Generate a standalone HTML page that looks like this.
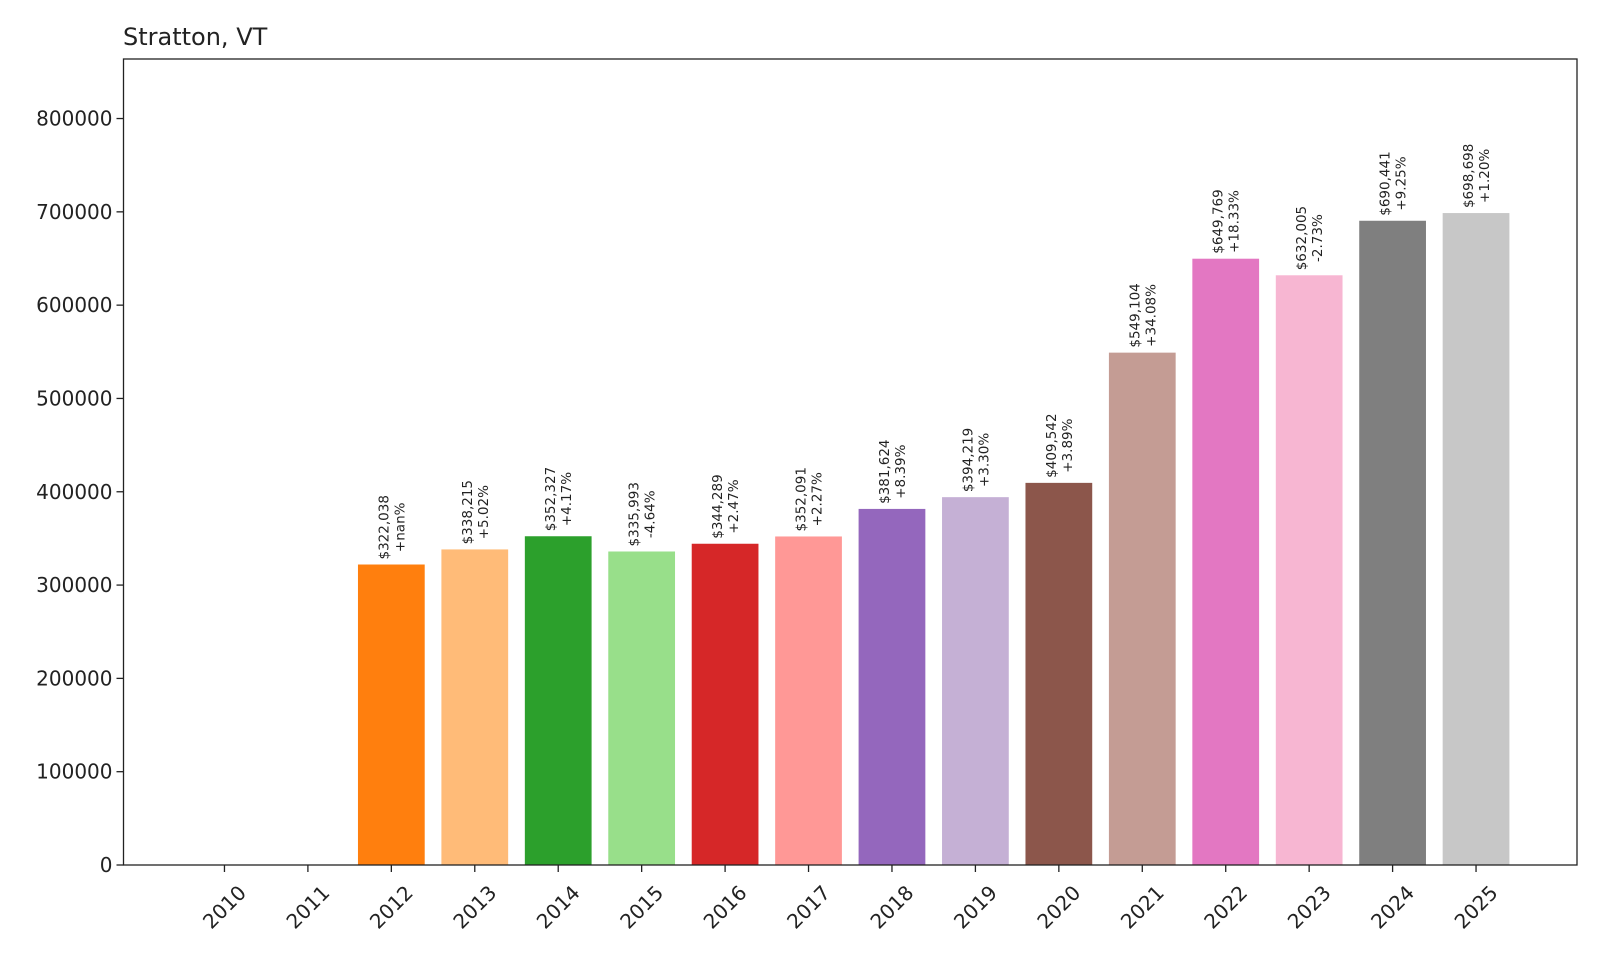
<!DOCTYPE html>
<html><head><meta charset="utf-8"><style>
body{margin:0;background:#fff}
svg{display:block;font-family:"DejaVu Sans","Liberation Sans",sans-serif}
</style></head><body>
<svg id="chart" width="1600" height="960" viewBox="0 0 1600 960">
<rect width="1600" height="960" fill="#fff"/>
<text x="123" y="45" font-size="24" fill="#222">Stratton, VT</text>
<g id="bars"></g>
<g id="labels"></g>
<g id="yaxis"></g>
<g id="xaxis"></g>
<rect x="123.5" y="59" width="1453.5" height="806" fill="none" stroke="#222" stroke-width="1.3"/>
</svg>
<script>
const years = ["2010","2011","2012","2013","2014","2015","2016","2017","2018","2019","2020","2021","2022","2023","2024","2025"];
const values = [0,0,322038,338215,352327,335993,344289,352091,381624,394219,409542,549104,649769,632005,690441,698698];
const changes = ["","","+nan%","+5.02%","+4.17%","-4.64%","+2.47%","+2.27%","+8.39%","+3.30%","+3.89%","+34.08%","+18.33%","-2.73%","+9.25%","+1.20%"];
const yTicks = [0,100000,200000,300000,400000,500000,600000,700000,800000];
const colors = ["#1f77b4","#aec7e8","#ff7f0e","#ffbb78","#2ca02c","#98df8a","#d62728","#ff9896","#9467bd","#c5b0d5","#8c564b","#c49c94","#e377c2","#f7b6d2","#7f7f7f","#c7c7c7"];

const L=123.5,R=1577,T=59,B=865;
const xMin=-1.21,xMax=years.length-1+1.21,yMax=863800;
const xs=i=>L+(i-xMin)/(xMax-xMin)*(R-L);
const ys=v=>B-v/yMax*(B-T);
const NS="http://www.w3.org/2000/svg";
function mk(tag,attrs,parent){const e=document.createElementNS(NS,tag);for(const k in attrs)e.setAttribute(k,attrs[k]);parent.appendChild(e);return e;}
const bw=(xs(1)-xs(0))*0.8;
const gB=document.getElementById('bars'),gL=document.getElementById('labels'),gY=document.getElementById('yaxis'),gX=document.getElementById('xaxis');
values.forEach((v,i)=>{
  const r=mk('rect',{x:xs(i)-bw/2,y:ys(v),width:bw,height:Math.max(0,B-ys(v)),fill:colors[i]},gB);
  
  
  if(v>0){
    const g=mk('g',{transform:`translate(${xs(i)},${ys(v)-5}) rotate(-90)`},gL);
    
    
    const t1=mk('text',{x:0,y:-3,'font-size':13.5,fill:'#222'},g);
    t1.textContent='$'+v.toLocaleString('en-US');
    const t2=mk('text',{x:0,y:13,'font-size':13.5,fill:'#222'},g);
    t2.textContent=changes[i];
    const w1=t1.getComputedTextLength(),w2=t2.getComputedTextLength(),m=Math.max(w1,w2);
    t1.setAttribute('x',(m-w1)/2);t2.setAttribute('x',(m-w2)/2);
  }
  mk('line',{x1:xs(i),x2:xs(i),y1:B,y2:B+7,stroke:'#222','stroke-width':1.3},gX);
  const tl=mk('text',{x:xs(i),y:907,'font-size':20,fill:'#222','text-anchor':'middle','dominant-baseline':'central',transform:`rotate(-45 ${xs(i)} 907)`},gX);
  
  
  tl.textContent=years[i];
});
yTicks.forEach(v=>{
  mk('line',{x1:L-7,x2:L,y1:ys(v),y2:ys(v),stroke:'#222','stroke-width':1.3},gY);
  const t=mk('text',{x:L-11,y:ys(v),'font-size':20,fill:'#222','text-anchor':'end','dominant-baseline':'central'},gY);
  
  
  t.textContent=String(v);
});
</script>
</body></html>
